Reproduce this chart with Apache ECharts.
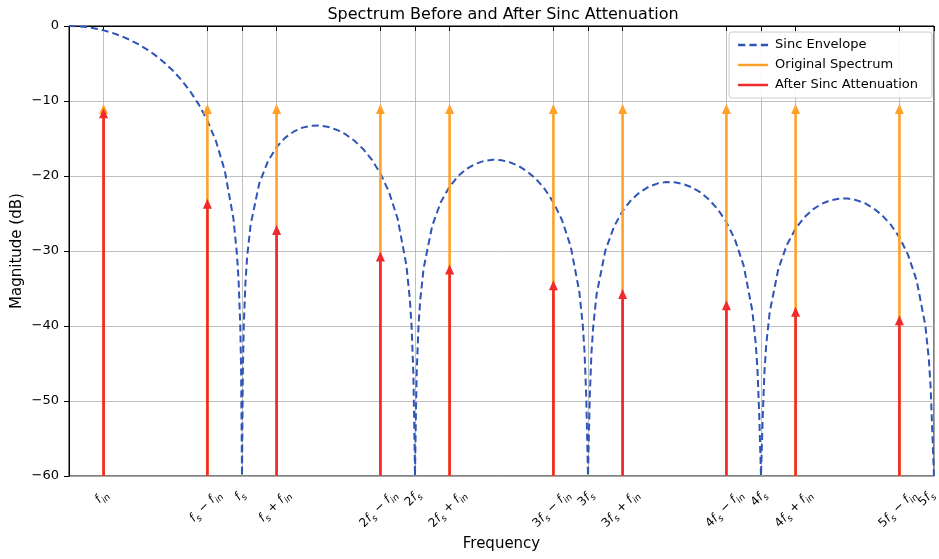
<!DOCTYPE html>
<html>
<head>
<meta charset="utf-8">
<script src="https://cdn.jsdelivr.net/npm/echarts@6/dist/echarts.min.js"></script>
<style>html,body{margin:0;padding:0;background:#fff}#c{width:939px;height:559px}</style>
</head>
<body>
<div id="c"></div>
<script>
// ---- data ----
const envelopeFreq = [0,0.05,0.1,0.15,0.2,0.25,0.3,0.35,0.4,0.45,0.5,0.55,0.6,0.65,0.7,0.75,0.8,0.85,0.9,0.95,0.97,0.98,0.99,0.995,1.0,
  1.005,1.01,1.02,1.03,1.05,1.1,1.15,1.2,1.25,1.3,1.35,1.4,1.45,1.5,1.55,1.6,1.65,1.7,1.75,1.8,1.85,1.9,1.95,1.97,1.98,1.99,1.995,2.0,
  2.005,2.01,2.02,2.03,2.05,2.1,2.15,2.2,2.25,2.3,2.35,2.4,2.45,2.5,2.55,2.6,2.65,2.7,2.75,2.8,2.85,2.9,2.95,2.97,2.98,2.99,3.0,
  3.01,3.02,3.03,3.05,3.1,3.15,3.2,3.25,3.3,3.35,3.4,3.45,3.5,3.55,3.6,3.65,3.7,3.75,3.8,3.85,3.9,3.95,3.97,3.98,3.99,4.0,
  4.01,4.02,4.03,4.05,4.1,4.15,4.2,4.25,4.3,4.35,4.4,4.45,4.5,4.55,4.6,4.65,4.7,4.75,4.8,4.85,4.9,4.95,4.97,4.98,4.99,5.0];
const envelopeDb = [0,-0.04,-0.14,-0.32,-0.58,-0.91,-1.33,-1.83,-2.42,-3.11,-3.92,-4.86,-5.94,-7.20,-8.69,-10.45,-12.62,-15.39,-19.23,-25.61,-30.21,-33.81,-39.91,-45.98,-60,
  -46.07,-40.09,-34.16,-30.73,-26.48,-20.97,-18.02,-16.14,-14.89,-14.06,-13.55,-13.30,-13.28,-13.47,-13.86,-14.46,-15.30,-16.39,-17.81,-19.66,-22.15,-25.72,-31.86,-36.36,-39.92,-45.98,-52.02,-60,
  -52.06,-46.07,-40.09,-36.62,-32.29,-26.59,-23.45,-21.41,-20.00,-19.02,-18.37,-17.98,-17.83,-17.90,-18.18,-18.68,-19.41,-20.41,-21.74,-23.50,-25.90,-29.39,-35.45,-39.93,-43.47,-49.51,-60,
  -49.57,-43.59,-40.10,-35.74,-29.97,-26.77,-24.66,-23.19,-22.15,-21.45,-21.01,-20.81,-20.83,-21.06,-21.51,-22.19,-23.15,-24.43,-26.15,-28.51,-31.97,-37.99,-42.45,-45.98,-52.02,-60,
  -52.06,-46.07,-42.58,-38.21,-32.40,-29.16,-27.02,-25.52,-24.45,-23.72,-23.25,-23.02,-23.01,-23.21,-23.63,-24.30,-25.23,-26.49,-28.18,-30.52,-33.95,-39.95,-44.40,-47.93,-53.96,-60];
const toneFreq = [0.2,0.8,1.2,1.8,2.2,2.8,3.2,3.8,4.2,4.8];
const originalDb = [-10,-10,-10,-10,-10,-10,-10,-10,-10,-10];
const attenuatedDb = [-10.58,-22.62,-26.14,-29.66,-31.41,-33.50,-34.66,-36.15,-37.02,-38.18];
const tickFreq = [0.2,0.8,1,1.2,1.8,2,2.2,2.8,3,3.2,3.8,4,4.2,4.8,5];
const tickLabels = [
  '{f|f}{s|in}',
  '{f|f}{s|s}{o| − }{f|f}{s|in}',
  '{f|f}{s|s}',
  '{f|f}{s|s}{o| + }{f|f}{s|in}',
  '{n|2}{f|f}{s|s}{o| − }{f|f}{s|in}',
  '{n|2}{f|f}{s|s}',
  '{n|2}{f|f}{s|s}{o| + }{f|f}{s|in}',
  '{n|3}{f|f}{s|s}{o| − }{f|f}{s|in}',
  '{n|3}{f|f}{s|s}',
  '{n|3}{f|f}{s|s}{o| + }{f|f}{s|in}',
  '{n|4}{f|f}{s|s}{o| − }{f|f}{s|in}',
  '{n|4}{f|f}{s|s}',
  '{n|4}{f|f}{s|s}{o| + }{f|f}{s|in}',
  '{n|5}{f|f}{s|s}{o| − }{f|f}{s|in}',
  '{n|5}{f|f}{s|s}'
];

const FONT = 'DejaVu Sans';
const BLUE = '#2f54b8', ORANGE = '#ffa126', RED = '#f02a2a';

const richStyles = {
  f: { fontFamily: FONT, fontStyle: 'italic', fontSize: 12, fill: '#000', color: '#000', verticalAlign: 'bottom', padding: [0, 0, 3, 0] },
  n: { fontFamily: FONT, fontSize: 12, fill: '#000', color: '#000', verticalAlign: 'bottom', padding: [0, 0, 3, 0] },
  o: { fontFamily: FONT, fontSize: 12, fill: '#000', color: '#000', verticalAlign: 'bottom', padding: [0, 0, 3, 0] },
  s: { fontFamily: FONT, fontStyle: 'italic', fontSize: 9, fill: '#000', color: '#000', verticalAlign: 'bottom' }
};
const measureCtx = document.createElement('canvas').getContext('2d');
function labelWidth(str) {
  let w = 0; const re = /\{(\w)\|([^}]*)\}/g; let m;
  while ((m = re.exec(str))) {
    const st = richStyles[m[1]];
    measureCtx.font = (st.fontStyle === 'italic' ? 'italic ' : '') + st.fontSize + 'px "' + FONT + '"';
    w += measureCtx.measureText(m[2]).width;
  }
  return w;
}

function arrowRender(color) {
  return function (params, api) {
    const x = api.value(0), y = api.value(1);
    const base = api.coord([x, -60]);
    const tip = api.coord([x, y]);
    const tipY = tip[1] + 3;
    const headLen = 10, headHalf = 4.5;
    return {
      type: 'group',
      children: [
        { type: 'line', shape: { x1: base[0], y1: base[1], x2: tip[0], y2: tipY + headLen - 1 },
          style: { stroke: color, lineWidth: 2.6 } },
        { type: 'polygon', shape: { points: [[tip[0], tipY], [tip[0] - headHalf, tipY + headLen], [tip[0] + headHalf, tipY + headLen]] },
          style: { fill: color } }
      ]
    };
  };
}

function tickLabelRender(params, api) {
  const i = params.dataIndex;
  const p = api.coord([api.value(0), -60]);
  const txt = tickLabels[i];
  const w = labelWidth(txt), h = 13;
  const half = (w + h) / (2 * Math.SQRT2);
  const maxX = api.getWidth() - half - 1;
  return {
    type: 'text',
    x: Math.min(p[0] - 1, maxX),
    y: p[1] + 13 + half,
    rotation: Math.PI / 4,
    silent: true,
    style: { text: txt, rich: richStyles, align: 'center', verticalAlign: 'middle', fill: '#000' }
  };
}

const chart = echarts.init(document.getElementById('c'), null, { renderer: 'canvas' });
chart.setOption({
  animation: false,
  backgroundColor: '#fff',
  title: {
    text: 'Spectrum Before and After Sinc Attenuation',
    left: 498, top: 2, textAlign: 'center',
    textStyle: { fontFamily: FONT, fontSize: 16, fontWeight: 'normal', color: '#000' }
  },
  legend: {
    orient: 'vertical', right: 7, top: 32,
    backgroundColor: 'rgba(255,255,255,0.85)', borderColor: '#cccccc', borderWidth: 1, borderRadius: 3,
    padding: [6, 14, 6, 9], itemGap: 6, itemWidth: 30, itemHeight: 14,
    textStyle: { fontFamily: FONT, fontSize: 13, color: '#000', lineHeight: 14, padding: [0, 0, 0, 2] },
    data: [
      { name: 'Sinc Envelope', icon: 'path://M0,0H7V2.4H0Z M11,0H18V2.4H11Z M22,0H29V2.4H22Z', itemStyle: { color: BLUE } },
      { name: 'Original Spectrum', icon: 'path://M0,0H29V2.4H0Z', itemStyle: { color: ORANGE } },
      { name: 'After Sinc Attenuation', icon: 'path://M0,0H29V2.4H0Z', itemStyle: { color: RED } }
    ]
  },
  grid: { left: 69, right: 5, top: 26, bottom: 83, outerBoundsMode: 'none', containLabel: false,
    show: true, borderColor: '#000', borderWidth: 1 },
  xAxis: {
    type: 'value', min: 0, max: 5,
    name: 'Frequency', nameLocation: 'middle', nameGap: 61, nameMoveOverlap: false,
    nameTextStyle: { fontFamily: FONT, fontSize: 15, color: '#000' },
    axisLine: { show: true, lineStyle: { color: '#000', width: 1 } },
    axisTick: { show: true, customValues: tickFreq, length: 5, lineStyle: { color: '#000' } },
    axisLabel: { show: false, customValues: tickFreq },
    splitLine: { show: true, lineStyle: { color: '#b0b0b0', width: 0.8 } }
  },
  yAxis: {
    type: 'value', min: -60, max: 0, interval: 10,
    name: 'Magnitude (dB)', nameLocation: 'middle', nameGap: 44, nameMoveOverlap: false,
    nameTextStyle: { fontFamily: FONT, fontSize: 15, color: '#000' },
    axisLine: { show: true, lineStyle: { color: '#000', width: 1 } },
    axisTick: { show: true, length: 5, lineStyle: { color: '#000' } },
    axisLabel: { fontFamily: FONT, fontSize: 13, color: '#000', margin: 10,
      formatter: v => (v < 0 ? '\u2212' + Math.abs(v) : String(v)) },
    splitLine: { show: true, lineStyle: { color: '#b0b0b0', width: 0.8 } }
  },
  series: [
    {
      name: 'Sinc Envelope', type: 'line', showSymbol: false, symbol: 'none', z: 2,
      data: envelopeFreq.map((f, i) => [f, envelopeDb[i]]),
      lineStyle: { color: BLUE, width: 2, type: [7, 4] }, itemStyle: { color: BLUE }
    },
    {
      name: 'Original Spectrum', type: 'custom', z: 3, itemStyle: { color: ORANGE },
      renderItem: arrowRender(ORANGE),
      data: toneFreq.map((f, i) => [f, originalDb[i]])
    },
    {
      name: 'After Sinc Attenuation', type: 'custom', z: 4, itemStyle: { color: RED },
      renderItem: arrowRender(RED),
      data: toneFreq.map((f, i) => [f, attenuatedDb[i]])
    },
    {
      name: 'x tick labels', type: 'custom', z: 5, silent: true,
      renderItem: tickLabelRender,
      data: tickFreq.map(f => [f])
    }
  ]
});
</script>
</body>
</html>
